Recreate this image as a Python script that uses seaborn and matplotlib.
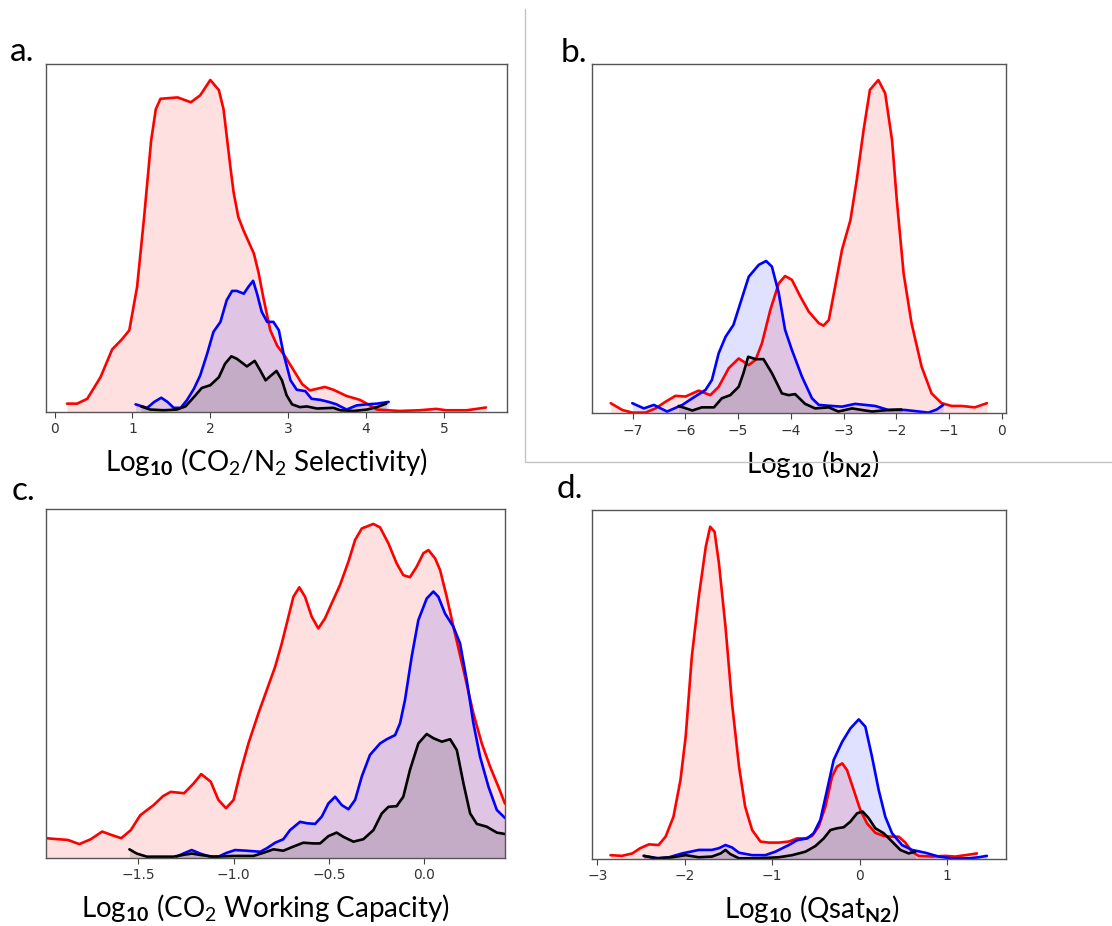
import numpy as np
import matplotlib
matplotlib.use("Agg")
import matplotlib.pyplot as plt
import seaborn as sns
from matplotlib.lines import Line2D

# ---------------- data ----------------
# Panel a: Log10 (CO2/N2 Selectivity)
a_red_x = [0.16, 0.29, 0.42, 0.59, 0.74, 0.87, 0.96, 1.06, 1.15, 1.24, 1.30, 1.36, 1.58, 1.75, 1.87, 2.00,
           2.11, 2.17, 2.26, 2.30, 2.36, 2.43, 2.49, 2.56, 2.62, 2.68, 2.77, 2.86, 2.96, 3.07, 3.18, 3.28,
           3.47, 3.58, 3.75, 3.92, 4.01, 4.14, 4.43, 4.69, 4.90, 5.03, 5.29, 5.42, 5.54]
a_red_y = [0.024, 0.024, 0.038, 0.10, 0.18, 0.21, 0.235, 0.36, 0.56, 0.78, 0.87, 0.90, 0.904, 0.89, 0.91, 0.954,
           0.925, 0.87, 0.70, 0.63, 0.56, 0.52, 0.49, 0.455, 0.40, 0.33, 0.235, 0.19, 0.16, 0.12, 0.08, 0.062,
           0.072, 0.064, 0.046, 0.035, 0.024, 0.007, 0.003, 0.005, 0.009, 0.005, 0.005, 0.009, 0.013]
a_blue_x = [1.04, 1.19, 1.28, 1.37, 1.45, 1.53, 1.62, 1.70, 1.79, 1.87, 1.96, 2.04, 2.13, 2.21, 2.28, 2.34,
            2.43, 2.49, 2.55, 2.60, 2.66, 2.73, 2.81, 2.88, 2.94, 3.03, 3.11, 3.22, 3.30, 3.41, 3.52, 3.62,
            3.75, 3.88, 4.01, 4.14, 4.29]
a_blue_y = [0.022, 0.012, 0.029, 0.041, 0.029, 0.012, 0.012, 0.034, 0.067, 0.105, 0.168, 0.23, 0.259, 0.321, 0.348, 0.348,
            0.34, 0.36, 0.377, 0.34, 0.288, 0.259, 0.259, 0.235, 0.168, 0.091, 0.064, 0.060, 0.038, 0.035, 0.029, 0.022,
            0.007, 0.019, 0.022, 0.024, 0.029]
a_black_x = [1.11, 1.23, 1.40, 1.57, 1.68, 1.79, 1.89, 2.00, 2.11, 2.19, 2.27, 2.34, 2.47, 2.57, 2.64, 2.71,
             2.77, 2.85, 2.92, 2.98, 3.05, 3.15, 3.24, 3.37, 3.58, 3.67, 3.84, 4.01, 4.14, 4.26]
a_black_y = [0.016, 0.007, 0.005, 0.007, 0.016, 0.043, 0.069, 0.077, 0.10, 0.139, 0.16, 0.153, 0.131, 0.147, 0.12, 0.091,
             0.103, 0.118, 0.091, 0.048, 0.022, 0.014, 0.016, 0.010, 0.012, 0.005, 0.003, 0.007, 0.014, 0.024]

# Panel b: Log10 (b_N2)
b_red_x = [-7.42, -7.20, -7.01, -6.76, -6.57, -6.38, -6.19, -6.00, -5.75, -5.53, -5.37, -5.18, -4.99, -4.80, -4.67,
           -4.55, -4.39, -4.23, -4.11, -3.98, -3.82, -3.66, -3.47, -3.38, -3.28, -3.16, -3.03, -2.87, -2.75, -2.62,
           -2.50, -2.34, -2.21, -2.08, -1.99, -1.86, -1.71, -1.52, -1.33, -1.14, -0.95, -0.76, -0.51, -0.28]
b_red_y = [0.029, 0.0095, 0.002, 0.002, 0.014, 0.033, 0.05, 0.048, 0.065, 0.052, 0.076, 0.129, 0.157, 0.138, 0.153,
           0.20, 0.296, 0.372, 0.393, 0.382, 0.334, 0.291, 0.258, 0.251, 0.267, 0.363, 0.468, 0.553, 0.668, 0.811,
           0.926, 0.954, 0.916, 0.782, 0.611, 0.40, 0.258, 0.134, 0.057, 0.029, 0.021, 0.021, 0.017, 0.029]
b_blue_x = [-7.01, -6.79, -6.60, -6.35, -6.06, -5.87, -5.62, -5.50, -5.37, -5.24, -5.09, -4.96, -4.80, -4.61, -4.47,
            -4.36, -4.23, -4.11, -3.98, -3.79, -3.60, -3.47, -3.22, -3.03, -2.78, -2.40, -2.15, -1.83, -1.39, -1.23, -1.11]
b_blue_y = [0.029, 0.014, 0.024, 0.005, 0.024, 0.043, 0.067, 0.095, 0.172, 0.219, 0.253, 0.315, 0.391, 0.425, 0.436,
            0.42, 0.344, 0.239, 0.181, 0.105, 0.043, 0.024, 0.021, 0.019, 0.027, 0.021, 0.0095, 0.0095, 0.002, 0.011, 0.024]
b_black_x = [-6.13, -5.87, -5.69, -5.46, -5.31, -5.15, -4.99, -4.90, -4.81, -4.67, -4.52, -4.36, -4.17, -4.04, -3.92,
             -3.73, -3.54, -3.28, -3.10, -2.84, -2.46, -2.15, -1.90]
b_black_y = [0.021, 0.008, 0.017, 0.017, 0.043, 0.052, 0.076, 0.115, 0.162, 0.155, 0.155, 0.115, 0.057, 0.052, 0.055,
             0.027, 0.014, 0.017, 0.005, 0.014, 0.005, 0.0095, 0.011]

# Panel c: Log10 (CO2 Working Capacity)
c_red_x = [-1.985, -1.92, -1.87, -1.81, -1.75, -1.69, -1.64, -1.59, -1.54, -1.49, -1.42, -1.37, -1.33, -1.26, -1.21,
           -1.17, -1.12, -1.08, -1.04, -1.00, -0.966, -0.922, -0.87, -0.826, -0.782, -0.747, -0.712, -0.686, -0.655,
           -0.625, -0.59, -0.555, -0.52, -0.485, -0.441, -0.397, -0.362, -0.327, -0.266, -0.231, -0.187, -0.144,
           -0.109, -0.074, -0.039, -0.0035, 0.023, 0.058, 0.084, 0.119, 0.154, 0.207, 0.259, 0.303, 0.347, 0.39, 0.425]
c_red_y = [0.056, 0.053, 0.051, 0.039, 0.053, 0.075, 0.065, 0.056, 0.079, 0.122, 0.151, 0.177, 0.189, 0.185, 0.213,
           0.24, 0.218, 0.166, 0.142, 0.166, 0.242, 0.328, 0.414, 0.481, 0.548, 0.615, 0.692, 0.749, 0.776,
           0.749, 0.692, 0.658, 0.687, 0.73, 0.783, 0.85, 0.912, 0.945, 0.958, 0.948, 0.902, 0.845,
           0.811, 0.805, 0.835, 0.874, 0.883, 0.859, 0.826, 0.749, 0.663, 0.539, 0.414, 0.328, 0.261, 0.204, 0.155]
c_blue_x = [-1.30, -1.255, -1.22, -1.176, -1.124, -1.08, -1.036, -0.992, -0.93, -0.86, -0.826, -0.782, -0.739, -0.704,
            -0.651, -0.616, -0.572, -0.537, -0.502, -0.467, -0.432, -0.397, -0.362, -0.327, -0.284, -0.231, -0.196,
            -0.152, -0.126, -0.10, -0.065, -0.03, 0.014, 0.049, 0.075, 0.11, 0.154, 0.189, 0.224, 0.259, 0.294,
            0.338, 0.382, 0.425]
c_blue_y = [0.003, 0.014, 0.022, 0.012, 0.003, 0.003, 0.014, 0.022, 0.02, 0.017, 0.027, 0.043, 0.053, 0.079,
            0.103, 0.099, 0.097, 0.118, 0.156, 0.175, 0.151, 0.139, 0.166, 0.233, 0.295, 0.328, 0.34,
            0.352, 0.386, 0.453, 0.577, 0.682, 0.744, 0.764, 0.749, 0.701, 0.663, 0.615, 0.51, 0.386, 0.29,
            0.204, 0.137, 0.114]
c_black_x = [-1.547, -1.509, -1.456, -1.386, -1.316, -1.264, -1.22, -1.176, -1.106, -1.00, -0.896, -0.844, -0.791,
             -0.739, -0.686, -0.634, -0.581, -0.546, -0.502, -0.459, -0.424, -0.371, -0.319, -0.266, -0.222, -0.187,
             -0.144, -0.109, -0.074, -0.03, 0.014, 0.049, 0.093, 0.137, 0.172, 0.207, 0.242, 0.277, 0.329, 0.382, 0.425]
c_black_y = [0.024, 0.012, 0.003, 0.003, 0.003, 0.008, 0.012, 0.008, 0.003, 0.005, 0.005, 0.014, 0.024,
             0.02, 0.032, 0.043, 0.041, 0.041, 0.062, 0.072, 0.06, 0.046, 0.053, 0.079, 0.127, 0.146,
             0.148, 0.175, 0.252, 0.328, 0.355, 0.343, 0.333, 0.34, 0.309, 0.213, 0.127, 0.097, 0.089, 0.072, 0.068]

# Panel d: Log10 (Qsat_N2)
d_red_x = [-2.85, -2.72, -2.60, -2.51, -2.41, -2.30, -2.22, -2.13, -2.05, -1.99, -1.92, -1.84, -1.76, -1.71, -1.66,
           -1.61, -1.535, -1.46, -1.38, -1.31, -1.23, -1.135, -1.04, -0.926, -0.811, -0.716, -0.62, -0.545, -0.469,
           -0.392, -0.316, -0.259, -0.20, -0.145, -0.069, 0.008, 0.084, 0.179, 0.274, 0.37, 0.446, 0.522, 0.598,
           0.674, 0.827, 0.979, 1.093, 1.208, 1.341]
d_red_y = [0.011, 0.009, 0.016, 0.031, 0.042, 0.040, 0.064, 0.121, 0.226, 0.351, 0.58, 0.752, 0.895, 0.952, 0.938,
           0.848, 0.666, 0.446, 0.265, 0.15, 0.083, 0.05, 0.047, 0.047, 0.05, 0.059, 0.059, 0.066, 0.093,
           0.15, 0.236, 0.265, 0.274, 0.255, 0.198, 0.14, 0.102, 0.075, 0.066, 0.064, 0.064, 0.047, 0.021,
           0.009, 0.007, 0.009, 0.007, 0.011, 0.016]
d_blue_x = [-2.47, -2.30, -2.18, -2.03, -1.84, -1.69, -1.61, -1.535, -1.46, -1.38, -1.23, -1.08, -0.964, -0.811,
            -0.716, -0.60, -0.526, -0.45, -0.373, -0.297, -0.20, -0.107, -0.011, 0.065, 0.141, 0.217, 0.293, 0.37,
            0.484, 0.598, 0.75, 0.903, 1.055, 1.246, 1.36, 1.455]
d_blue_y = [0.009, 0.002, 0.005, 0.016, 0.026, 0.026, 0.031, 0.04, 0.033, 0.018, 0.011, 0.011, 0.021, 0.04,
            0.054, 0.059, 0.074, 0.112, 0.198, 0.284, 0.336, 0.374, 0.40, 0.379, 0.293, 0.198, 0.121, 0.074,
            0.04, 0.026, 0.018, 0.007, 0.002, 0.002, 0.005, 0.009]
d_black_x = [-2.47, -2.33, -2.14, -1.99, -1.84, -1.69, -1.59, -1.535, -1.48, -1.38, -1.154, -0.926, -0.773, -0.62,
             -0.507, -0.411, -0.335, -0.259, -0.183, -0.107, -0.03, 0.034, 0.103, 0.179, 0.274, 0.37, 0.465, 0.56, 0.636]
d_black_y = [0.009, 0.002, 0.005, 0.011, 0.005, 0.007, 0.016, 0.026, 0.014, 0.002, 0.002, 0.005, 0.011, 0.021,
             0.037, 0.059, 0.083, 0.088, 0.091, 0.107, 0.131, 0.136, 0.117, 0.088, 0.074, 0.05, 0.026, 0.016, 0.021]

panel_letters = ["a.", "b.", "c.", "d."]
x_labels = [r"Log$_{\mathbf{10}}$ (CO$_2$/N$_2$ Selectivity)",
            r"Log$_{\mathbf{10}}$ (b$_{\mathbf{N2}}$)",
            r"Log$_{\mathbf{10}}$ (CO$_2$ Working Capacity)",
            r"Log$_{\mathbf{10}}$ (Qsat$_{\mathbf{N2}}$)"]
x_ticks = [[0, 1, 2, 3, 4, 5],
           [-7, -6, -5, -4, -3, -2, -1, 0],
           [-1.5, -1.0, -0.5, 0.0],
           [-3, -2, -1, 0, 1]]
x_limits = [(-0.11, 5.81), (-7.78, 0.077), (-1.985, 0.425), (-3.065, 1.67)]
series_colors = ["#ff0000", "#0000ff", "#000000"]

# ---------------- styling ----------------
sns.set_style("white")
plt.rcParams["font.family"] = ["Lato", "DejaVu Sans"]
plt.rcParams["mathtext.fontset"] = "custom"
plt.rcParams["mathtext.rm"] = "Lato"
plt.rcParams["mathtext.it"] = "Lato:italic"
plt.rcParams["mathtext.bf"] = "Lato:bold"

fig = plt.figure(figsize=(11.12, 9.26), dpi=100)
W, H = 1112.0, 926.0

def rect(l, r, t, b):
    return [l / W, 1 - b / H, (r - l) / W, (b - t) / H]

rects = [rect(46, 507, 64, 412), rect(591.7, 1005.7, 64, 413.3),
         rect(46, 505, 509.3, 857.7), rect(591.7, 1005.7, 510, 859)]
letter_pos = [(10, 61), (561, 61.5), (12, 500.5), (557, 498)]
label_x = [0.477, 0.535, 0.479, 0.532]

panels = [
    [(a_red_x, a_red_y), (a_blue_x, a_blue_y), (a_black_x, a_black_y)],
    [(b_red_x, b_red_y), (b_blue_x, b_blue_y), (b_black_x, b_black_y)],
    [(c_red_x, c_red_y), (c_blue_x, c_blue_y), (c_black_x, c_black_y)],
    [(d_red_x, d_red_y), (d_blue_x, d_blue_y), (d_black_x, d_black_y)],
]

for i, series in enumerate(panels):
    ax = fig.add_axes(rects[i])
    for (xs, ys), col in zip(series, series_colors):
        ax.fill_between(xs, ys, 0, color=col, alpha=0.12, lw=0)
        sns.lineplot(x=xs, y=ys, ax=ax, color=col, lw=1.9, sort=False, estimator=None,
                     solid_joinstyle="round", solid_capstyle="round")
    ax.set_xlim(*x_limits[i])
    ax.set_ylim(0, 1.0)
    ax.set_yticks([])
    ax.set_ylabel("")
    ax.set_xticks(x_ticks[i])
    ax.tick_params(axis="x", bottom=True, length=4, width=0.8, color="#444444",
                   labelsize=10, labelcolor="#333333", pad=3.5)
    for lab in ax.get_xticklabels():
        lab.set_fontfamily("DejaVu Sans")
    for sp in ax.spines.values():
        sp.set_color("#555555")
        sp.set_linewidth(1.0)
    ax.set_xlabel(x_labels[i], fontsize=20, color="black")
    ax.xaxis.set_label_coords(label_x[i], -0.098)
    fig.text(letter_pos[i][0] / W, 1 - letter_pos[i][1] / H, panel_letters[i],
             fontsize=24, va="baseline", ha="left", color="black")

# separator lines of the composed figure
fig.add_artist(Line2D([524.5 / W, 524.5 / W], [1 - 9 / H, 1 - 462 / H], color="#c4c4c4", lw=1.0))
fig.add_artist(Line2D([524.5 / W, 1.0], [1 - 462 / H, 1 - 462 / H], color="#c4c4c4", lw=1.0))

fig.savefig("out.png", dpi=100)
